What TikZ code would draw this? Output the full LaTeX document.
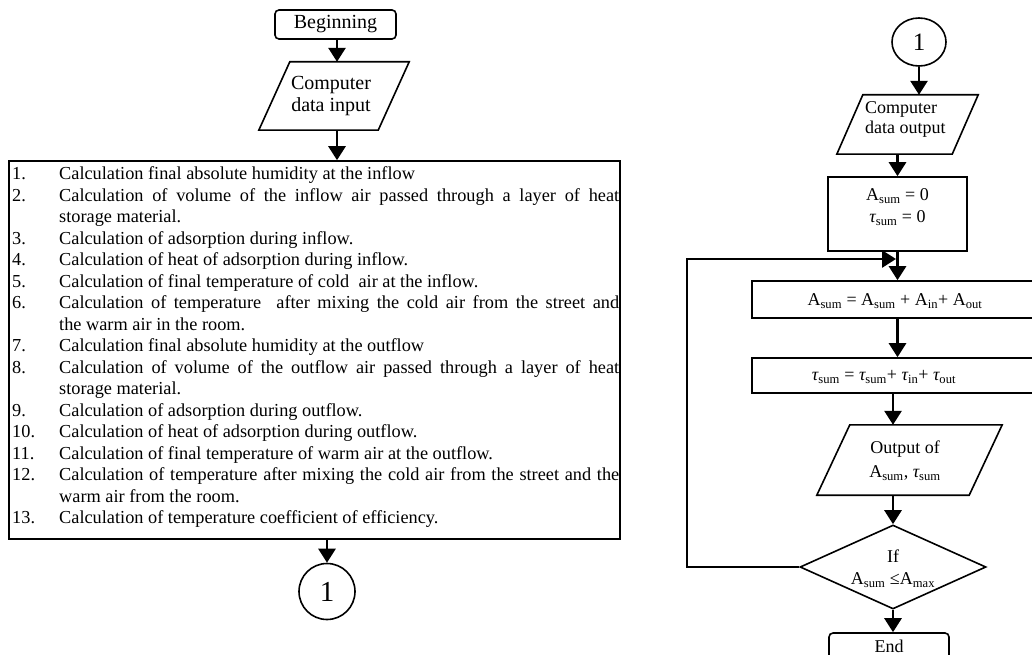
\documentclass[tikz,border=0pt]{standalone}
\usepackage{fontspec}
\setmainfont{Liberation Serif}
\usetikzlibrary{arrows.meta,shapes.geometric}
\newcommand\itm[2]{\par\noindent\hangindent=47pt\hangafter=1\makebox[47pt][l]{#1}#2}
\newcommand\tu{{\itshape τ}}
\begin{document}
\begin{tikzpicture}[x=1pt,y=-1pt,
  box/.style={draw, line width=1.6pt, rectangle, inner sep=0pt},
  ghost/.style={rectangle, inner sep=0pt},
  pline/.style={line width=1.6pt, line join=miter},
  arr/.style={line width=2.8pt, -{Triangle[length=14pt,width=17pt]}},
  lblL/.style={font=\fontsize{20}{22}\selectfont, align=center, inner sep=0pt},
  lblR/.style={font=\fontsize{18}{22}\selectfont, align=center, inner sep=0pt}]
\useasboundingbox (0,0) rectangle (1032,655);

% ---------- left column ----------
\node[box, rounded corners=4pt, minimum width=121pt, minimum height=29pt, lblL] (beg) at (335.5,24.5) {Beginning};

\node[ghost, minimum width=150pt, minimum height=68pt] (inp) at (334,96) {};
\draw[pline] ([xshift=31pt]inp.north west) -- (inp.north east) -- ([xshift=-31pt]inp.south east) -- (inp.south west) -- cycle;
\node[lblL] (inpt) at (331,96.5) {Computer\\data input};

\node[box, minimum width=611pt, minimum height=378pt] (list) at (314.5,350) {};
\node[anchor=base west, inner sep=0pt, font=\fontsize{18.3}{21.5}\selectfont] (listt) at (12,179.6) {\parbox[t]{607pt}{\hyphenpenalty=10000\tolerance=9999\parindent=0pt
\itm{1.}{Calculation final absolute humidity at the inflow}
\itm{2.}{Calculation of volume of the inflow air passed through a layer of heat\linebreak storage material.}
\itm{3.}{Calculation of adsorption during inflow.}
\itm{4.}{Calculation of heat of adsorption during inflow.}
\itm{5.}{Calculation of final temperature of cold\ \ air at the inflow.}
\itm{6.}{Calculation of temperature\ \ after mixing the cold air from the street and\linebreak the warm air in the room.}
\itm{7.}{Calculation final absolute humidity at the outflow}
\itm{8.}{Calculation of volume of the outflow air passed through a layer of heat\linebreak storage material.}
\itm{9.}{Calculation of adsorption during outflow.}
\itm{10.}{Calculation of heat of adsorption during outflow.}
\itm{11.}{Calculation of final temperature of warm air at the outflow.}
\itm{12.}{Calculation of temperature after mixing the cold air from the street and the\linebreak warm air from the room.}
\itm{13.}{Calculation of temperature coefficient of efficiency.}}};

\node[circle, draw, line width=1.6pt, minimum size=56pt, inner sep=0pt, font=\fontsize{29}{29}\selectfont] (c1) at (327,591.5) {1};

\draw[arr] (beg.south -| 337,0) -- (inp.north -| 337,0);
\draw[arr] (inp.south -| 337,0) -- (list.north -| 337,0);
\draw[arr] (c1.north |- list.south) -- (c1.north);

% ---------- right column ----------
\node[ellipse, draw, line width=1.6pt, minimum width=54pt, minimum height=48pt, inner sep=0pt, font=\fontsize{25}{25}\selectfont] (c2) at (919,42) {1};

\node[ghost, minimum width=141pt, minimum height=59pt] (out1) at (907.5,124.5) {};
\draw[pline] ([xshift=26pt]out1.north west) -- (out1.north east) -- ([xshift=-26pt]out1.south east) -- (out1.south west) -- cycle;
\node[lblR, font=\fontsize{18}{20.5}\selectfont, align=left, anchor=north west] (out1t) at (865,101) {Computer\\data output};

\node[box, minimum width=139pt, minimum height=74pt] (init) at (897.5,214) {};
\node[lblR] (initt) at (897.5,207) {A\textsubscript{sum} = 0\\\tu\textsubscript{sum} = 0};

\coordinate (j) at (896,259);
\coordinate (lp) at (687,259);

\node[box, minimum width=286pt, minimum height=37pt] (sumA) at (895,299.5) {};
\node[lblR] (sumAt) at (895,301) {A\textsubscript{sum} = A\textsubscript{sum} + A\textsubscript{in}+ A\textsubscript{out}};

\node[box, minimum width=286pt, minimum height=35pt] (sumT) at (895,375.5) {};
\node[lblR] (sumTt) at (884,377) {\tu\textsubscript{sum} = \tu\textsubscript{sum}+ \tu\textsubscript{in}+ \tu\textsubscript{out}};

\node[ghost, minimum width=185pt, minimum height=70pt] (outp) at (909.5,460) {};
\draw[pline] ([xshift=33pt]outp.north west) -- (outp.north east) -- ([xshift=-33pt]outp.south east) -- (outp.south west) -- cycle;
\node[lblR] (outpt) at (905,460.5) {Output of\\[2pt]A\textsubscript{sum}, \tu\textsubscript{sum}};

\node[diamond, draw, line width=1.6pt, minimum width=186pt, minimum height=84pt, inner sep=0pt, aspect=2.2] (cond) at (893,567) {};
\node[lblR] (condt) at (893,568.5) {If\\A\textsubscript{sum} ≤A\textsubscript{max}};

\node[box, rounded corners=4pt, minimum width=120pt, minimum height=26pt, lblR] (fin) at (889,646) {End};

\draw[arr] (c2.south) -- (c2.south |- out1.north);
\draw[arr] (init.north |- out1.south) -- (init.north);
\draw[arr] (init.south) -- (init.south |- sumA.north);
\draw[arr] (init.south |- sumA.south) -- (init.south |- sumT.north);
\draw[arr] (cond.north |- sumT.south) -- (cond.north |- outp.north);
\draw[arr] (cond.north |- outp.south) -- (cond.north);
\draw[arr] (cond.south) -- (cond.south |- fin.north);
\draw[arr] (cond.west) -| (lp) -- (j);
\end{tikzpicture}
\end{document}
